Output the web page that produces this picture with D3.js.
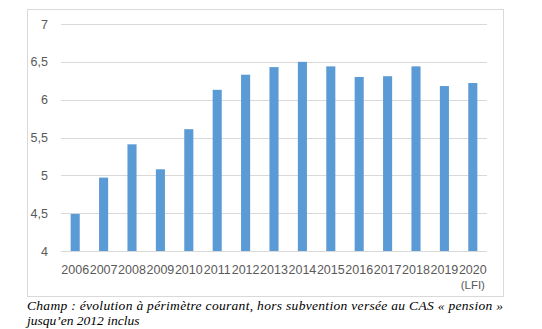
<!DOCTYPE html>
<html><head><meta charset="utf-8">
<script src="https://cdn.jsdelivr.net/npm/d3@7"></script>
<style>body{margin:0;background:#fff}</style>
</head><body>
<svg id="c" width="542" height="329"></svg>
<script>
const years = ["2006","2007","2008","2009","2010","2011","2012","2013","2014","2015","2016","2017","2018","2019","2020"];
const values = [4.49,4.97,5.41,5.08,5.61,6.13,6.33,6.43,6.50,6.44,6.30,6.31,6.44,6.18,6.22];
const yTicks = [4,4.5,5,5.5,6,6.5,7];
const subLabels = {"2020":"(LFI)"};
const caption1 = "Champ : évolution à périmètre courant, hors subvention versée au CAS « pension »";
const caption2 = "jusqu’en 2012 inclus";

const svg = d3.select("#c");
svg.append("rect").attr("x",27.5).attr("y",9.5).attr("width",476).attr("height",287)
  .attr("fill","#fff").attr("stroke","#d9d9d9").attr("stroke-width",1);

const x = d3.scaleBand().domain(years).range([61,487]).paddingInner(0.68).paddingOuter(0.34);
const y = d3.scaleLinear().domain([4,7]).range([251,24]);

const fmt = d => String(d).replace(".",",");
svg.append("g").selectAll("line").data(yTicks).join("line")
  .attr("x1",61).attr("x2",487).attr("y1",d=>Math.round(y(d))+0.5).attr("y2",d=>Math.round(y(d))+0.5)
  .attr("stroke","#d9d9d9").attr("stroke-width",1);
svg.append("g").selectAll("text").data(yTicks).join("text")
  .attr("x",48).attr("y",d=>y(d)+4.5).attr("text-anchor","end")
  .attr("font-family","Liberation Sans, Arial, sans-serif").attr("font-size",12.5).attr("fill","#595959")
  .text(fmt);

svg.append("g").selectAll("rect").data(years).join("rect")
  .attr("x",d=>x(d)).attr("width",x.bandwidth())
  .attr("y",(d,i)=>y(values[i])).attr("height",(d,i)=>y(4)-y(values[i]))
  .attr("fill","#5b9bd5");

const xl = svg.append("g");
xl.selectAll("text.yr").data(years).join("text").attr("class","yr")
  .attr("x",d=>x(d)+x.bandwidth()/2).attr("y",274).attr("text-anchor","middle")
  .attr("font-family","Liberation Sans, Arial, sans-serif").attr("font-size",12.5).attr("fill","#595959")
  .text(d=>d);
xl.selectAll("text.sub").data(years.filter(d=>subLabels[d])).join("text").attr("class","sub")
  .attr("x",d=>x(d)+x.bandwidth()/2).attr("y",289).attr("text-anchor","middle")
  .attr("font-family","Liberation Sans, Arial, sans-serif").attr("font-size",11.5).attr("fill","#595959")
  .text(d=>subLabels[d]);

svg.append("text").attr("x",27).attr("y",310)
  .attr("font-family","Liberation Serif, Times New Roman, serif").attr("font-style","italic").attr("font-size",13.5).attr("fill","#000")
  .attr("textLength",476).attr("lengthAdjust","spacing").text(caption1);
svg.append("text").attr("x",27).attr("y",325)
  .attr("font-family","Liberation Serif, Times New Roman, serif").attr("font-style","italic").attr("font-size",13.5).attr("fill","#000")
  .text(caption2);
</script>
</body></html>
